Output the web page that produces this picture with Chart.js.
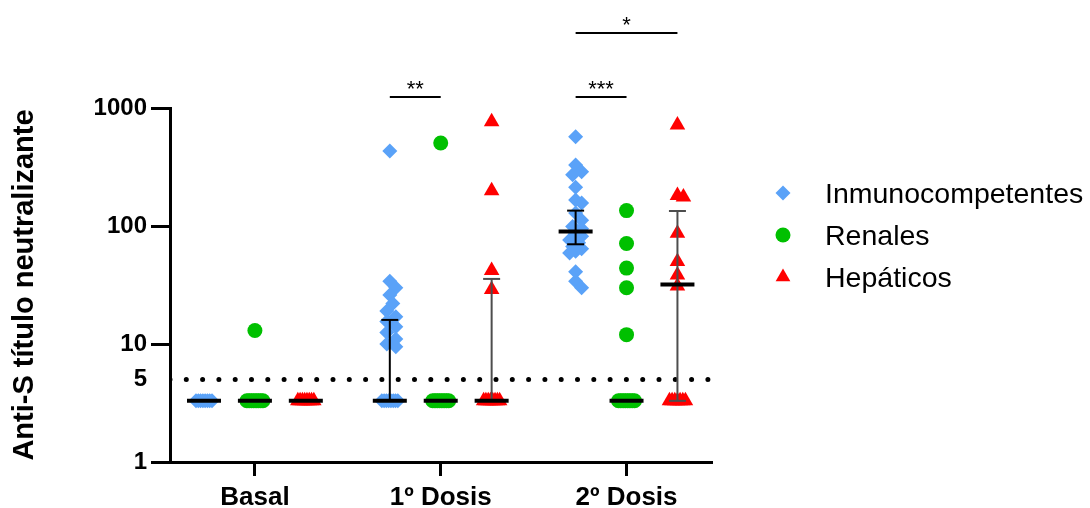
<!DOCTYPE html>
<html>
<head>
<meta charset="utf-8">
<script src="https://cdn.jsdelivr.net/npm/chart.js@4.4.1/dist/chart.umd.min.js"></script>
<style>
  html, body { margin: 0; padding: 0; background: #fff; }
  #wrap { width: 1090px; height: 508px; }
</style>
</head>
<body>
<div id="wrap"><canvas id="chart" width="1090" height="508"></canvas></div>
<script>
// Data
const categories = ['Basal', '1º Dosis', '2º Dosis'];
const seriesNames = ['Inmunocompetentes', 'Renales', 'Hepáticos'];
const yTicks = [1, 5, 10, 100, 1000];
const detectionLimit = 5;

// titres below the limit are plotted at 3.3
const inmunoValues = [
  [3.3, 3.3, 3.3, 3.3, 3.3, 3.3, 3.3, 3.3],
  [432, 34, 30, 26, 22, 19, 17, 15.5, 14, 12.5, 11, 10, 9.5, 3.3, 3.3, 3.3, 3.3, 3.3, 3.3, 3.3, 3.3],
  [571, 329, 288, 272, 213, 166, 157, 129, 112, 99, 95, 87, 82, 76, 72, 67, 64, 61, 59, 41, 34, 30]
];
const renalValues = [
  [13, 3.3, 3.3, 3.3, 3.3, 3.3, 3.3, 3.3, 3.3],
  [505, 3.3, 3.3, 3.3, 3.3, 3.3, 3.3, 3.3, 3.3],
  [135, 71, 44, 30, 12, 3.3, 3.3, 3.3, 3.3, 3.3, 3.3, 3.3, 3.3]
];
const hepValues = [
  [3.3, 3.3, 3.3, 3.3, 3.3, 3.3, 3.3, 3.3],
  [765, 199, 42, 29, 3.3, 3.3, 3.3, 3.3, 3.3, 3.3, 3.3, 3.3],
  [718, 181, 176, 87, 50, 38.5, 31, 3.3, 3.3, 3.3, 3.3, 3.3, 3.3, 3.3]
];

const inmunoMedian = [3.3, 3.3, 90];
const renalMedian = [3.3, 3.3, 3.3];
const hepMedian = [3.3, 3.3, 32];

// [low, high] of the error bar, null where none is drawn
const inmunoError = [null, [3.3, 16], [70, 135]];
const renalError = [null, null, null];
const hepError = [null, [3.3, 35.6], [3.3, 134]];

// significance brackets: category, from series, to series, label
const sigTests = [
  { cat: 1, from: 0, to: 1, label: '**', level: 0 },
  { cat: 2, from: 0, to: 1, label: '***', level: 0 },
  { cat: 2, from: 0, to: 2, label: '*', level: 1 }
];

const seriesValues = [inmunoValues, renalValues, hepValues];
const seriesMedians = [inmunoMedian, renalMedian, hepMedian];
const seriesErrors = [inmunoError, renalError, hepError];

const styles = [
  { color: '#5aa2f8', point: 'rectRot', radius: 7.5, err: '#000000' },
  { color: '#00c000', point: 'circle', radius: 7.5, err: '#000000' },
  { color: '#ff0000', point: 'triangle', radius: 9, err: '#4d4d4d' }
];
const groupOffset = [-0.274, 0, 0.274];
const X_MIN = -0.457, X_MAX = 2.46;

// simple beeswarm, worked in approximate pixels
const PX_PER_CAT = 186, PX_PER_DECADE = 118, SPREAD = 8, MIN_DIST = 9;
function swarm(vals) {
  const counts = {};
  vals.forEach(v => counts[v] = (counts[v] || 0) + 1);
  const seen = {};
  const placed = [];
  return vals.map(v => {
    const py = Math.log10(v) * PX_PER_DECADE;
    let dx;
    if (counts[v] >= 4) {
      const k = seen[v] || 0;
      seen[v] = k + 1;
      dx = -SPREAD + 2 * SPREAD * k / (counts[v] - 1);
    } else {
      const cands = [0, 3, -3, 6, -6];
      let best = 0, bestD = -1;
      for (const c of cands) {
        const d = placed.reduce((m, p) => Math.min(m, Math.hypot(p.x - c, p.y - py)), Infinity);
        if (d >= MIN_DIST) { best = c; bestD = Infinity; break; }
        if (d > bestD) { bestD = d; best = c; }
      }
      dx = best;
    }
    placed.push({ x: dx, y: py });
    return dx / PX_PER_CAT;
  });
}

const datasets = [];

// detection limit line
datasets.push({
  type: 'scatter',
  data: [{ x: X_MIN, y: detectionLimit }, { x: X_MAX, y: detectionLimit }],
  showLine: true,
  borderColor: '#000',
  borderWidth: 5,
  borderDash: [0, 16.3],
  borderCapStyle: 'round',
  pointRadius: 0,
  order: 3
});

seriesNames.forEach((name, s) => {
  const st = styles[s];
  const pts = [];
  seriesValues[s].forEach((vals, c) => {
    const jit = swarm(vals);
    vals.forEach((v, i) => pts.push({ x: c + groupOffset[s] + jit[i], y: v }));
  });
  datasets.push({
    type: 'scatter',
    label: name,
    data: pts,
    pointStyle: st.point,
    pointRadius: st.radius,
    pointBackgroundColor: st.color,
    pointBorderWidth: 0,
    order: 2
  });

  seriesErrors[s].forEach((e, c) => {
    if (!e) return;
    const xv = c + groupOffset[s];
    datasets.push({
      type: 'scatter',
      data: [{ x: xv, y: e[0] }, { x: xv, y: e[1] }],
      showLine: true,
      borderColor: st.err,
      borderWidth: 2,
      pointStyle: 'line',
      pointRadius: 8.5,
      pointBorderColor: st.err,
      pointBorderWidth: 2,
      order: 1
    });
  });

  datasets.push({
    type: 'scatter',
    data: seriesMedians[s].map((m, c) => ({ x: c + groupOffset[s], y: m })),
    pointStyle: 'line',
    pointRadius: 17,
    pointBorderColor: '#000',
    pointBorderWidth: 4,
    order: 0
  });
});

const bracketPlugin = {
  id: 'brackets',
  afterDraw(chart) {
    const { ctx, chartArea, scales } = chart;
    ctx.save();
    ctx.strokeStyle = '#000';
    ctx.fillStyle = '#000';
    ctx.lineWidth = 2;
    ctx.font = '22px "Liberation Sans", Arial, sans-serif';
    ctx.textAlign = 'center';
    ctx.textBaseline = 'alphabetic';
    sigTests.forEach(t => {
      const x1 = scales.x.getPixelForValue(t.cat + groupOffset[t.from]);
      const x2 = scales.x.getPixelForValue(t.cat + groupOffset[t.to]);
      const y = chartArea.top - 11 - 64 * t.level;
      ctx.beginPath();
      ctx.moveTo(x1, y);
      ctx.lineTo(x2, y);
      ctx.stroke();
      ctx.fillText(t.label, (x1 + x2) / 2, y - 1);
    });
    ctx.restore();
  }
};

const legendPlugin = {
  id: 'sideLegend',
  afterDraw(chart) {
    const { ctx, chartArea } = chart;
    const x0 = chartArea.right + 71;
    ctx.save();
    ctx.font = '28.5px "Liberation Sans", Arial, sans-serif';
    ctx.textBaseline = 'alphabetic';
    ctx.textAlign = 'left';
    seriesNames.forEach((name, s) => {
      const y = 193 + 42 * s;
      ctx.fillStyle = styles[s].color;
      Chart.helpers.drawPoint(ctx, {
        pointStyle: styles[s].point,
        radius: s === 2 ? 8.5 : 7.5,
        rotation: 0,
        borderWidth: 0
      }, x0, y);
      ctx.fillStyle = '#000';
      ctx.fillText(name, x0 + 42, y + 10);
    });
    ctx.restore();
  }
};

Chart.defaults.font.family = '"Liberation Sans", Arial, sans-serif';
Chart.defaults.color = '#000';

new Chart(document.getElementById('chart'), {
  type: 'scatter',
  data: { datasets },
  options: {
    responsive: false,
    devicePixelRatio: 1,
    animation: false,
    events: [],
    layout: { padding: { top: 108, right: 378, left: 0, bottom: 0 } },
    plugins: { legend: { display: false }, tooltip: { enabled: false } },
    scales: {
      x: {
        type: 'linear',
        min: X_MIN,
        max: X_MAX,
        afterBuildTicks: scale => { scale.ticks = categories.map((c, i) => ({ value: i })); },
        afterFit: scale => { scale.height = 46; },
        ticks: {
          callback: v => categories[v],
          font: { size: 26, weight: 'bold' },
          padding: 6,
          maxRotation: 0
        },
        grid: { drawOnChartArea: false, tickLength: 14, tickWidth: 3, tickColor: '#000' },
        border: { display: true, width: 3, color: '#000' }
      },
      y: {
        type: 'logarithmic',
        min: 1,
        max: 1000,
        afterBuildTicks: scale => { scale.ticks = yTicks.map(v => ({ value: v })); },
        afterFit: scale => { scale.width = 170; },
        ticks: {
          callback: v => String(v),
          font: { size: 24, weight: 'bold' },
          padding: 4
        },
        grid: {
          drawOnChartArea: false,
          tickLength: 19,
          tickWidth: 3,
          tickColor: ctx => (ctx.tick && ctx.tick.value === detectionLimit) ? 'rgba(0,0,0,0)' : '#000'
        },
        border: { display: true, width: 3, color: '#000' },
        title: {
          display: true,
          text: 'Anti-S título neutralizante',
          font: { size: 29, weight: 'bold' },
          padding: { top: 8, bottom: 0 }
        }
      }
    }
  },
  plugins: [bracketPlugin, legendPlugin]
});
</script>
</body>
</html>
